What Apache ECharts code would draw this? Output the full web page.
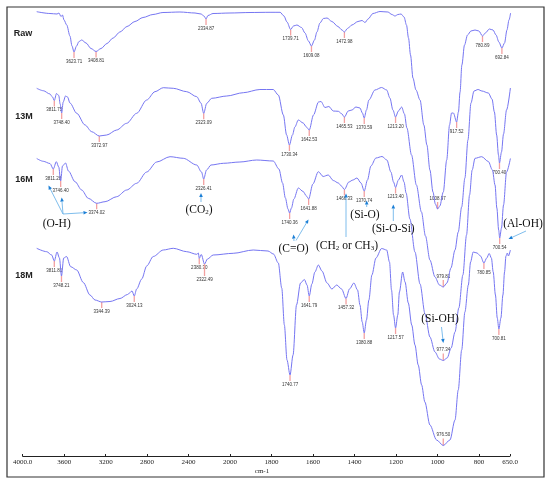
<!DOCTYPE html>
<html>
<head>
<meta charset="utf-8">
<script src="https://cdn.jsdelivr.net/npm/echarts@6/dist/echarts.min.js"></script>
<style>
html, body { margin: 0; padding: 0; background: #fff; }
#chart { width: 550px; height: 484px; }
</style>
</head>
<body>
<div id="chart"></div>
<script>
// FTIR spectra, [wavenumber cm-1, relative transmittance (stacked, arbitrary units)]
const rawSpectrum = [[3988,444.3],[3857,442.5],[3787,442],[3768,443],[3748,439.5],[3733,441],[3718,436],[3691,431],[3659,420],[3639,410],[3619,404],[3594,410],[3570,414.5],[3543,416],[3500,413],[3451,407.5],[3401,404.5],[3352,407.5],[3293,412.5],[3233,418],[3164,424],[3095,429.5],[3016,434.5],[2937,438.5],[2838,441.5],[2739,443.5],[2571,444],[2422,443],[2363,442],[2333,440],[2313,437],[2294,440.5],[2244,442.5],[2076,443],[1939,443.5],[1840,443.7],[1790,443.7],[1771,440],[1756,434],[1738,426.5],[1724,430],[1707,431],[1684,428.5],[1667,423],[1650,415],[1635,410],[1620,416],[1608,424],[1593,433],[1576,437.5],[1558,438],[1534,434.5],[1504,429.5],[1484,426],[1472,424],[1457,427.5],[1435,431],[1405,434.5],[1385,435.5],[1370,433.5],[1355,437],[1331,442.5],[1296,444.5],[1257,444],[1237,441.5],[1222,440],[1207,441.5],[1192,442],[1177,439],[1165,431],[1155,418],[1145,401],[1133,378],[1118,366],[1098,356],[1079,331],[1064,311],[1049,286],[1034,264],[1022,252],[1011,247],[1000,250],[983,264],[966,296],[952,331],[942,343],[933,343],[917,334],[908,344],[900,364],[891,391],[878,411],[863,421],[846,425],[826,426],[807,425],[789,420],[775,423],[755,427],[737,426],[722,421],[708,414],[693,408],[680,413],[668,426],[658,436],[650,443]];

const m13Spectrum = [[3988,367.7],[3923,365.3],[3857,362],[3832,359],[3814,355.5],[3792,362.5],[3770,360.5],[3756,352],[3741,343],[3726,354],[3703,360],[3683,359],[3659,353],[3592,342.7],[3510,331],[3444,324.3],[3369,320],[3296,321],[3197,326],[3098,332.7],[2999,342.7],[2900,356],[2818,364.3],[2736,368.3],[2637,367.7],[2504,364.3],[2405,359.3],[2363,353],[2336,342.7],[2306,352.7],[2257,357.7],[2108,360],[1972,363.3],[1890,366.5],[1824,366.5],[1799,361],[1774,341],[1758,321],[1744,311],[1729,321],[1717,329],[1700,336],[1676,333],[1660,329],[1646,326],[1625,341],[1600,354],[1588,354.5],[1568,348.5],[1549,349.5],[1527,345],[1502,344.7],[1487,342.5],[1472,339],[1453,345],[1435,346],[1415,349],[1395,348],[1383,343],[1374,338],[1363,346],[1351,356],[1321,366],[1288,368.5],[1263,366],[1247,358],[1232,346],[1219,339],[1205,345],[1189,349],[1175,342],[1163,328],[1140,301],[1116,271],[1091,244],[1071,220],[1049,196],[1024,179],[1002,171],[983,169],[965,173],[945,188],[925,206],[909,224],[892,249],[876,278],[861,316],[846,353],[831,365],[811,366.5],[792,365],[760,363],[742,357],[730,344],[719,321],[710,301],[705,293],[695,304],[685,322],[670,346],[651,368]];

const m16Spectrum = [[3988,297.5],[3923,294.7],[3857,292.5],[3824,287],[3794,294.3],[3770,289],[3751,275],[3733,290],[3703,293],[3674,285],[3609,274.3],[3543,266],[3478,257.7],[3395,252.7],[3312,254.3],[3197,259.3],[3098,266],[2999,272.7],[2900,284],[2801,294],[2669,299.3],[2538,297.7],[2405,291],[2358,284],[2336,277],[2308,286],[2264,291],[2142,292.7],[1989,294],[1906,296],[1824,295],[1796,287],[1778,273],[1764,258],[1751,247],[1743,243],[1734,248],[1722,257],[1700,268],[1676,264.5],[1660,260],[1649,257],[1628,272],[1601,284.3],[1577,279.5],[1552,281],[1527,275.5],[1502,273],[1487,270],[1472,266.5],[1450,274],[1430,276],[1410,278],[1390,273],[1374,265],[1358,276],[1341,290],[1316,298],[1286,299.5],[1262,296],[1242,284],[1229,274],[1219,268.5],[1205,276],[1189,281],[1177,274],[1167,263],[1148,237],[1123,204],[1098,172],[1073,142],[1049,119],[1024,104],[1002,97],[983,95.5],[964,98],[944,108],[925,124],[906,148],[886,181],[868,221],[853,261],[840,286],[826,297.7],[793,299.3],[760,294.5],[740,286],[727,271],[718,248],[709,226],[704,218],[695,228],[685,251],[670,284],[651,297.5]];

const m18Spectrum = [[3988,207.7],[3889,204.3],[3840,201],[3814,195],[3787,204],[3763,198],[3743,180],[3721,198],[3693,199.5],[3652,189.3],[3592,186],[3527,173.5],[3461,161],[3411,156],[3345,154],[3263,154.5],[3164,157.5],[3090,161.5],[3045,165],[3023,160],[2999,167],[2949,177],[2900,190],[2835,199.5],[2736,206],[2637,207.7],[2504,204.3],[2405,201.7],[2389,203],[2380,197.7],[2360,201.5],[2328,192],[2299,197],[2242,201],[2044,202.7],[1923,206],[1850,205],[1823,202],[1799,193],[1782,168],[1769,131],[1756,96],[1741,81],[1726,101],[1709,151],[1689,173],[1670,176.5],[1657,171],[1646,160],[1633,172],[1618,184],[1601,191],[1583,185],[1558,173],[1534,167],[1510,171],[1486,167],[1464,157.5],[1447,167],[1425,173],[1407,166],[1395,151],[1384,134],[1374,123],[1363,136],[1351,156],[1336,181],[1316,198],[1288,207.5],[1263,206],[1249,194],[1239,166],[1229,141],[1219,128],[1208,141],[1200,164],[1184,184],[1172,174],[1156,153],[1139,131],[1123,111],[1107,91],[1090,71],[1074,54],[1049,31],[1016,16],[983,10.5],[950,16],[925,36],[909,66],[892,106],[876,144],[859,171],[848,194],[835,204],[816,203],[799,200],[782,193],[768,198],[756,202.5],[745,198],[736,184],[725,161],[716,138],[708,127],[698,138],[688,161],[680,184],[673,200],[666,203],[661,200],[651,206]];

// peak marks: [wavenumber of the minimum, label, stem length (negative = label above)]
const rawPeaks = [[3619,'3623.71'],[3401,'3408.81'],[2313,'2334.87'],[1738,'1739.71'],[1635,'1609.08'],[1472,'1472.98'],[1011,'1008.97',-7],[917,'917.52'],[789,'780.89'],[693,'692.84']];
const m13Peaks = [[3814,'3811.75'],[3741,'3748.40'],[3369,'3372.97'],[2336,'2323.09'],[1744,'1730.34'],[1646,'1642.53'],[1472,'1465.53'],[1374,'1370.59'],[1219,'1213.20'],[983,'979.81',-7],[705,'700.40']];
const m16Peaks = [[3824,'3811.28'],[3751,'3746.40'],[3395,'3374.02'],[2336,'2326.41'],[1743,'1740.36'],[1649,'1641.88'],[1472,'1466.33'],[1374,'1370.74'],[1219,'1213.40'],[983,'977.34',-7],[704,'700.54']];
const m18Peaks = [[3814,'3811.81'],[3743,'3748.21'],[3345,'3344.39'],[3023,'3024.13'],[2380,'2380.30'],[2328,'2322.49',12],[1741,'1740.77'],[1646,'1641.79'],[1464,'1457.32'],[1374,'1380.88'],[1219,'1217.57'],[983,'976.50',-7],[782,'780.85'],[708,'700.81']];

const sampleNames = ['Raw', '13M', '16M', '18M'];
const tickLabels = ['4000.0','3600','3200','2800','2400','2000','1800','1600','1400','1200','1000','800','650.0'];

// the wavenumber scale is doubled below 2000 cm-1
function toU(w) { return w >= 2000 ? 4000 - w : 2000 + 2 * (2000 - w); }

const lineColor = '#7676f2';
const spectra = [rawSpectrum, m13Spectrum, m16Spectrum, m18Spectrum];
const peaks = [rawPeaks, m13Peaks, m16Peaks, m18Peaks];

const series = [];
spectra.forEach((spec, i) => {
    series.push({
        name: sampleNames[i],
        type: 'line',
        xAxisIndex: 1,
        yAxisIndex: 1,
        data: spec.map(p => [toU(p[0]), p[1]]),
        showSymbol: false,
        smooth: 0.3,
        smoothMonotone: 'x',
        lineStyle: { color: lineColor, width: 1 },
        silent: true,
        z: 3
    });
    const pk = peaks[i];
    series.push({
        type: 'custom',
        xAxisIndex: 1,
        yAxisIndex: 1,
        clip: false,
        silent: true,
        z: 2,
        data: pk.map(p => {
            const pt = spec.find(s => s[0] === p[0]);
            return [toU(p[0]), pt[1]];
        }),
        renderItem: function (params, api) {
            const c = api.coord([api.value(0), api.value(1)]);
            const item = pk[params.dataIndex];
            const len = item[2] || 6;
            const up = len < 0;
            return {
                type: 'group',
                children: [{
                    type: 'line',
                    shape: { x1: c[0], y1: c[1], x2: c[0], y2: c[1] + len },
                    style: { stroke: '#f3a0a0', lineWidth: 1.3 }
                }, {
                    type: 'text',
                    style: {
                        text: item[1],
                        x: c[0],
                        y: c[1] + len + (up ? -1 : 1),
                        align: 'center',
                        verticalAlign: up ? 'bottom' : 'top',
                        fontSize: 4.5,
                        fontFamily: 'Liberation Sans',
                        fill: '#333'
                    }
                }]
            };
        }
    });
});

// annotation helpers (pixel space)
function arrow(x1, y1, x2, y2) {
    const a = Math.atan2(y2 - y1, x2 - x1);
    const L = 4, W = 1.8;
    const bx = x2 - L * Math.cos(a), by = y2 - L * Math.sin(a);
    return [{
        type: 'line',
        shape: { x1: x1, y1: y1, x2: bx, y2: by },
        style: { stroke: '#6fb6ea', lineWidth: 0.9 },
        z: 10
    }, {
        type: 'polygon',
        shape: { points: [[x2, y2], [bx - W * Math.sin(a), by + W * Math.cos(a)], [bx + W * Math.sin(a), by - W * Math.cos(a)]] },
        style: { fill: '#1b7fd6' },
        z: 10
    }];
}
function note(text, x, y) {
    return {
        type: 'text', x: x, y: y, z: 10,
        style: {
            text: text, align: 'center', verticalAlign: 'middle',
            fontFamily: 'Liberation Serif', fontSize: 11.5, fill: '#111',
            rich: { s: { fontFamily: 'Liberation Serif', fontSize: 7, verticalAlign: 'bottom', padding: [5, 0, 0, 0], fill: '#111' },
                    n: { fontFamily: 'Liberation Serif', fontSize: 11.5, fill: '#111' } }
        }
    };
}
function sampleLabel(text, x, y) {
    return {
        type: 'text', x: x, y: y, z: 10,
        style: { text: text, align: 'center', verticalAlign: 'middle', fontFamily: 'Liberation Sans', fontWeight: 'bold', fontSize: 9, fill: '#222' }
    };
}

const graphics = [
    { type: 'rect', shape: { x: 7, y: 7, width: 537, height: 470 }, style: { fill: 'none', stroke: '#333', lineWidth: 1.2 }, z: 1 },
    sampleLabel(sampleNames[0], 23, 34),
    sampleLabel(sampleNames[1], 24, 117),
    sampleLabel(sampleNames[2], 24, 180),
    sampleLabel(sampleNames[3], 24, 276),
    { type: 'text', x: 262, y: 471, z: 10, style: { text: 'cm-1', align: 'center', verticalAlign: 'middle', fontFamily: 'Liberation Serif', fontSize: 7, fill: '#222' } },
    note('(O-H)', 56.7, 224),
    ...arrow(63, 214, 48.5, 185.5),
    ...arrow(63, 214, 61.7, 197.5),
    ...arrow(63, 214, 87.5, 212.5),
    note('{n|(CO}{s|2}{n|)}', 199, 210),
    ...arrow(201, 202, 201, 193),
    note('(C=O)', 293.5, 248.5),
    ...arrow(294, 241, 293.5, 234.5),
    ...arrow(296, 240.5, 308.5, 219.5),
    note('{n|(CH}{s|2}{n| or CH}{s|3}{n|)}', 347, 246),
    ...arrow(346, 237, 346, 193.5),
    note('(Si-O)', 365, 215),
    ...arrow(366.7, 207, 366.7, 200.5),
    note('(Si-O-Si)', 393.3, 228.5),
    ...arrow(393.3, 221, 393.3, 204.5),
    note('(Al-OH)', 523, 224),
    ...arrow(526, 231, 508.5, 239),
    note('(Si-OH)', 440, 319),
    ...arrow(441.5, 327, 443.3, 343)
];

const chart = echarts.init(document.getElementById('chart'), null, { renderer: 'canvas' });
chart.setOption({
    animation: false,
    backgroundColor: '#fff',
    grid: [
        { left: 22.7, right: 40, top: 10, bottom: 28 },
        { left: 35.5, right: 39.4, top: 10, bottom: 28 }
    ],
    xAxis: [{
        gridIndex: 0,
        type: 'value',
        min: 0,
        max: 4700,
        interval: 400,
        axisLine: { show: true, onZero: false, lineStyle: { color: '#222', width: 1 } },
        axisTick: { show: true, inside: true, length: 2, lineStyle: { color: '#222' } },
        splitLine: { show: false },
        axisLabel: {
            margin: 3,
            fontFamily: 'Liberation Serif',
            fontSize: 7,
            color: '#222',
            showMaxLabel: true,
            formatter: function (v) {
                const idx = Math.round(v / 400);
                return v >= 4700 ? tickLabels[12] : tickLabels[idx];
            }
        }
    }, {
        gridIndex: 1,
        type: 'value',
        min: 0,
        max: 4700,
        show: false
    }],
    yAxis: [
        { gridIndex: 0, type: 'value', min: 0, max: 446, show: false },
        { gridIndex: 1, type: 'value', min: 0, max: 446, show: false }
    ],
    series: series,
    graphic: graphics
});
</script>
</body>
</html>
